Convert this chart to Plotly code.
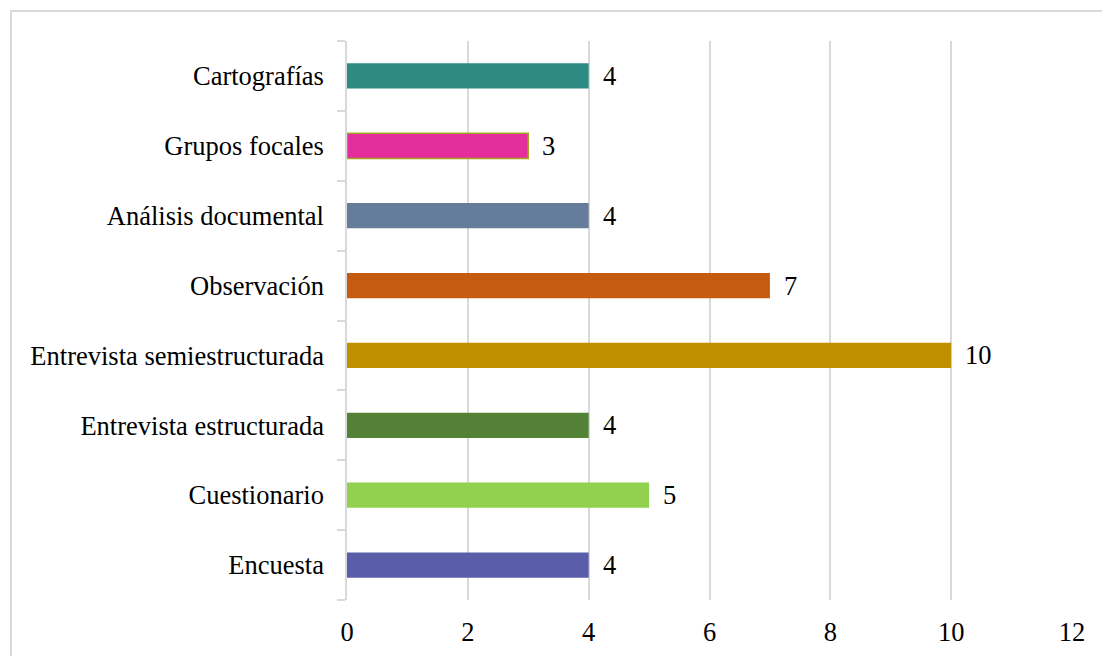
import plotly.graph_objects as go

categories = ["Encuesta", "Cuestionario", "Entrevista estructurada",
              "Entrevista semiestructurada", "Observación", "Análisis documental",
              "Grupos focales", "Cartografías"]
values = [4, 5, 4, 10, 7, 4, 3, 4]
colors = ["#5A5EAA", "#92D050", "#538135", "#BF9000", "#C55A11", "#657C9A",
          "#E52E9E", "#2E8B84"]
line_colors = ["rgba(0,0,0,0)"] * 6 + ["#A5A51E", "rgba(0,0,0,0)"]
x_ticks = [0, 2, 4, 6, 8, 10, 12]

FONT = "Liberation Serif"
FS = 26.5

fig = go.Figure()
fig.add_trace(go.Bar(
    x=values, y=categories, orientation="h",
    marker=dict(color=colors, line=dict(color=line_colors, width=1.5)),
    width=0.36,
))

for v, c in zip(values, categories):
    fig.add_annotation(x=v, y=c, text=str(v), showarrow=False, xanchor="left",
                       xshift=12, font=dict(family=FONT, size=FS, color="#000000"))

L, R, T, B = 347, 30, 41, 56
W, H = 1102, 656
pw = W - L - R
ph = H - T - B
fig.add_shape(type="rect", xref="paper", yref="paper",
              x0=(11 - L) / pw, x1=(W + 20 - L) / pw,
              y0=(H - B - (H + 20)) / ph, y1=(H - B - 11) / ph,
              line=dict(color="#D9D9D9", width=2), fillcolor="rgba(0,0,0,0)", layer="below")

fig.update_layout(
    width=W, height=H,
    margin=dict(l=L, r=R, t=T, b=B),
    paper_bgcolor="white", plot_bgcolor="white",
    font=dict(family=FONT, size=FS, color="#000000"),
    showlegend=False,
    bargap=0.64,
)
fig.update_xaxes(range=[0, 12], tickvals=x_ticks, showgrid=True, gridcolor="#D9D9D9",
                 gridwidth=1.5, zeroline=False, showline=False, ticks="",
                 automargin=False,
                 ticklabelstandoff=13, tickfont=dict(family=FONT, size=FS))
fig.update_yaxes(type="category", categoryorder="array", categoryarray=categories,
                 showgrid=False, showline=True, linecolor="#D9D9D9", linewidth=1.5,
                 automargin=False,
                 ticks="outside", tickson="boundaries", ticklen=8, tickcolor="#D9D9D9",
                 tickwidth=1.5, ticklabelstandoff=16, tickfont=dict(family=FONT, size=FS))

fig.write_html("out.html")
